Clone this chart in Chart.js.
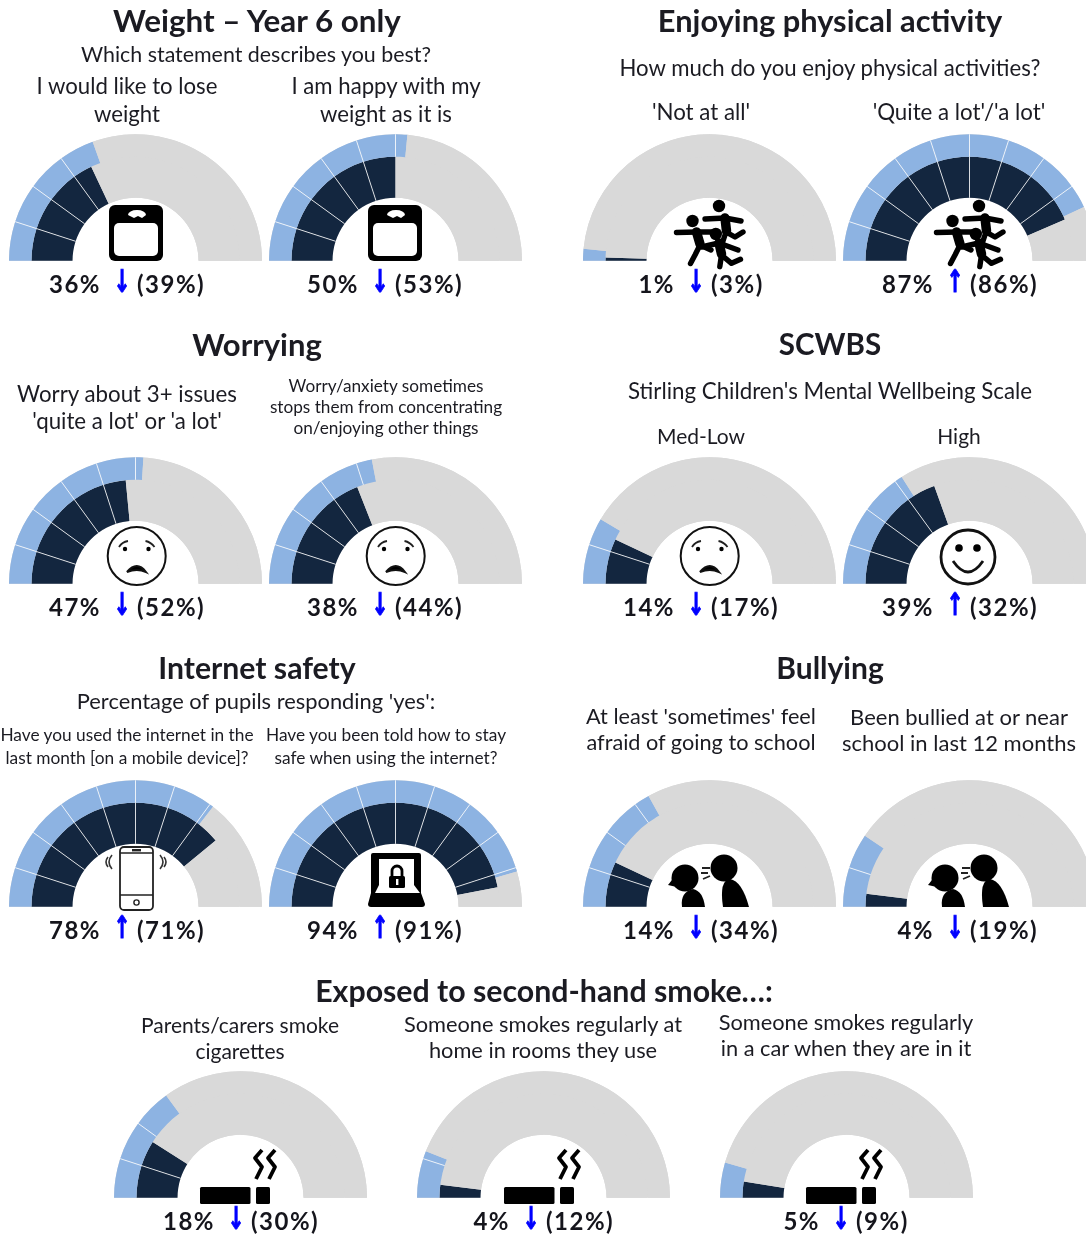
<!DOCTYPE html>
<html>
<head>
<meta charset="utf-8">
<title>Gauges</title>
<script src="https://cdn.jsdelivr.net/npm/chart.js@4"></script>
<style>
  html, body { margin: 0; background: #fff; }
  #page { position: relative; width: 1086px; height: 1234px; overflow: hidden; font-family: Lato, sans-serif; color: #1b1b22; filter: blur(0.55px); }
  #page canvas { position: absolute; }
  #page svg { position: absolute; width: 1px; height: 1px; overflow: visible; }
  .txt { position: absolute; white-space: nowrap; transform: translate(-50%, -50%); line-height: 1; }
  .pct { position: absolute; white-space: nowrap; line-height: 1; font-size: 24px; font-weight: 700; letter-spacing: 1.5px; transform: translateY(-50%); color: #15151c; }
  .arrow { position: absolute; line-height: 1; font: bold 24px "DejaVu Sans", sans-serif; color: #0000ff; -webkit-text-stroke: 0.7px #0000ff; transform: translate(-50%, -50%) scale(0.85, 1.3); }
</style>
</head>
<body>
<div id="page"></div>
<script>
  // values, current survey then previous survey (in brackets)
  const gaugeNames = ["Lose weight", "Happy with weight", "Not at all", "Quite a lot/a lot", "Worry 3+ issues", "Worry stops them", "Med-Low", "High", "Used internet", "Told how to stay safe", "Afraid of school", "Been bullied", "Parents smoke", "Smoke at home", "Smoke in car"];
  const currentValues = [36, 50, 1, 87, 47, 38, 14, 39, 78, 94, 14, 4, 18, 4, 5];
  const previousValues = [39, 53, 3, 86, 52, 44, 17, 32, 71, 91, 34, 19, 30, 12, 9];
  const gaugeIcons = ["scale", "scale", "runners", "runners", "sad", "sad", "sad", "smile", "phone", "lock", "talk", "talk", "smoke", "smoke", "smoke"];

  const headings = ["Weight – Year 6 only", "Enjoying physical activity", "Worrying", "SCWBS", "Internet safety", "Bullying", "Exposed to second-hand smoke…:"];
  const subheadings = ["Which statement describes you best?", "How much do you enjoy physical activities?", "Stirling Children's Mental Wellbeing Scale", "Percentage of pupils responding 'yes':"];
  const captions = [
    ["I would like to lose", "weight"],
    ["I am happy with my", "weight as it is"],
    ["'Not at all'"],
    ["'Quite a lot'/'a lot'"],
    ["Worry about 3+ issues", "'quite a lot' or 'a lot'"],
    ["Worry/anxiety sometimes", "stops them from concentrating", "on/enjoying other things"],
    ["Med-Low"],
    ["High"],
    ["Have you used the internet in the", "last month [on a mobile device]?"],
    ["Have you been told how to stay", "safe when using the internet?"],
    ["At least 'sometimes' feel", "afraid of going to school"],
    ["Been bullied at or near", "school in last 12 months"],
    ["Parents/carers smoke", "cigarettes"],
    ["Someone smokes regularly at", "home in rooms they use"],
    ["Someone smokes regularly", "in a car when they are in it"]
  ];

  // layout
  const gaugeX = [135.5, 395, 709, 969, 135.5, 395, 709, 969, 135.5, 395, 709, 969, 240, 543.5, 846];
  const gaugeY = [261, 261, 261, 261, 584, 584, 584, 584, 907, 907, 907, 907, 1198, 1198, 1198];
  const arrowX = [122, 380, 696, 955, 122, 380, 696, 955, 122, 380, 696, 955, 236, 531, 841];
  const headingSpots = [[257, 21], [830, 21], [257, 344], [830, 344], [257, 667], [830, 667], [544, 990]];
  const headingSize = [31.4, 30.8, 31, 29.5, 30.2, 30, 30.3];
  const subSpots = [[256, 55], [830, 68], [830, 391], [256, 701]];
  const subSize = [21.4, 22.2, 22.3, 21.9];
  const captionX = [127, 386, 701, 959, 127, 386, 701, 959, 127, 386, 701, 959, 240, 543, 846];
  const captionY = [86, 86, 112, 112, 394, 386, 435, 435, 735, 735, 717, 717, 1024, 1024, 1022];
  const captionGap = [28, 28, 0, 0, 27, 21, 0, 0, 23, 23, 26, 26, 26, 26, 26];
  const captionSize = [22.2, 22.2, 22.3, 22.3, 22.3, 17.2, 21, 21, 17.3, 17.3, 21.7, 22, 21, 21.8, 21.8];

  const RADIUS = 126.5, INNER = 63, SPLIT = 104;
  const NAVY = "#13263f", BLUE = "#8db3e2", GREY = "#d9d9d9";

  const page = document.getElementById("page");

  function addText(str, x, y, size, weight) {
    const el = document.createElement("div");
    el.className = "txt";
    el.textContent = str;
    el.style.left = x + "px";
    el.style.top = y + "px";
    el.style.fontSize = size + "px";
    if (weight) el.style.fontWeight = weight;
    page.appendChild(el);
  }

  // cut a value into 10-point tiles, the grey rest goes last
  function tiles(value) {
    const out = [];
    let left = value;
    while (left > 0) { out.push(Math.min(left, 10)); left -= 10; }
    out.push(100 - value);
    return out;
  }

  function tileColors(n, color) {
    const out = new Array(n).fill(color);
    out[n - 1] = GREY;
    return out;
  }

  const spokes = {
    id: "spokes",
    // one grey band under both rings, else the seam between them shows
    beforeDatasetsDraw(chart) {
      const first = chart.getDatasetMeta(0).data[0];
      const last = chart.getDatasetMeta(1).data[0];
      const ctx = chart.ctx;
      ctx.save();
      ctx.fillStyle = GREY;
      ctx.beginPath();
      ctx.arc(first.x, first.y, first.outerRadius, Math.PI, 2 * Math.PI);
      ctx.arc(first.x, first.y, last.innerRadius, 2 * Math.PI, Math.PI, true);
      ctx.closePath();
      ctx.fill();
      ctx.restore();
    },
    // white spokes between the coloured tiles, not over the grey
    afterDatasetsDraw(chart) {
      const ctx = chart.ctx;
      ctx.save();
      ctx.strokeStyle = "rgba(255,255,255,0.8)";
      ctx.lineWidth = 1;
      chart.getSortedVisibleDatasetMetas().forEach((meta) => {
        meta.data.slice(0, -2).forEach((arc) => {
          const p = arc.getProps(["x", "y", "endAngle", "innerRadius", "outerRadius"]);
          const c = Math.cos(p.endAngle), s = Math.sin(p.endAngle);
          ctx.beginPath();
          ctx.moveTo(p.x + c * p.innerRadius, p.y + s * p.innerRadius);
          ctx.lineTo(p.x + c * p.outerRadius, p.y + s * p.outerRadius);
          ctx.stroke();
        });
      });
      ctx.restore();
    }
  };

  function drawGauge(i) {
    const canvas = document.createElement("canvas");
    const w = Math.round(RADIUS * 2), h = Math.ceil(RADIUS);
    canvas.width = w;
    canvas.height = h;
    canvas.style.left = (gaugeX[i] - w / 2) + "px";
    canvas.style.top = (gaugeY[i] - h) + "px";
    canvas.setAttribute("aria-label", gaugeNames[i]);
    page.appendChild(canvas);
    const outer = tiles(previousValues[i]);
    const inner = tiles(currentValues[i]);
    new Chart(canvas, {
      type: "doughnut",
      data: {
        datasets: [
          { data: outer, backgroundColor: tileColors(outer.length, BLUE), borderWidth: 0, weight: RADIUS - SPLIT },
          { data: inner, backgroundColor: tileColors(inner.length, NAVY), borderWidth: 0, weight: SPLIT - INNER }
        ]
      },
      options: {
        responsive: false,
        animation: false,
        rotation: -90,
        circumference: 180,
        cutout: (INNER / RADIUS * 100) + "%",
        plugins: { legend: { display: false }, tooltip: { enabled: false } }
      },
      plugins: [spokes]
    });
  }

  // icons, drawn around the foot of the gauge (0,0), y going up is negative
  const runner = (limbs, torso, hx, hy) => `<circle cx="${hx}" cy="${hy}" r="6.2"/>
    <path d="${torso}" fill="none" stroke="#000" stroke-width="9.5" stroke-linecap="round"/>
    <path d="${limbs}" fill="none" stroke="#000" stroke-width="5.4" stroke-linecap="round" stroke-linejoin="round"/>`;
  const sadFace = `<circle cx="0.7" cy="-28" r="29" fill="#fff" stroke="#111" stroke-width="2"/>
    <circle cx="-11" cy="-35" r="2.2"/><circle cx="12.5" cy="-35" r="2.2"/>
    <path d="M-17 -37 Q-14 -42 -8 -43 M18.5 -37 Q15 -42 9.5 -43" stroke="#222" stroke-width="1.8" fill="none"/>
    <path d="M-9 -12 Q1 -24 10 -12 Q1 -16 -9 -12Z" stroke="#111" stroke-width="2"/>`;
  const iconArt = {
    scale: `<rect x="-27" y="-56" width="54" height="56" rx="6"/>
      <rect x="-22" y="-38" width="44" height="33" rx="5" fill="#fff"/>
      <path d="M-8 -46 A9 5 0 0 1 10 -46 L6 -43 L2 -45 L-2 -43Z" fill="#fff"/>`,
    runners: runner("M-4 -42 L16 -43 L32 -40 M17 -29 L26 -24 L34 -29 M17 -29 L12 -14", "M16 -43 L17.5 -30", 10, -55)
      + runner("M-32.5 -28.5 L-12 -29 L4 -29 M-9 -16 L-14 -6 L-18.5 2.5 M-9 -16 L2 -11", "M-12.5 -29 L-9 -17", -16.5, -40)
      + runner("M-7.5 -14 L10 -18 L29 -11 M12.5 -6 L10.8 5.7 M12.5 -6 L22.5 2.3 L31.5 -1.7", "M10 -18 L12.5 -7", 6.8, -27),
    sad: sadFace,
    smile: `<circle cx="-1" cy="-27" r="27" fill="#fff" stroke="#111" stroke-width="2.8"/>
      <circle cx="-10" cy="-36" r="3.8"/><circle cx="8" cy="-36" r="3.8"/>
      <path d="M-16 -23 Q-1 -1 14 -23" fill="none" stroke="#111" stroke-width="2.8"/>`,
    phone: `<rect x="-16" y="-60" width="33" height="63" rx="4" fill="#fff" stroke="#222" stroke-width="1.8"/>
      <path d="M-16 -54 H17 M-16 -12 H17" stroke="#222" stroke-width="1.4"/>
      <rect x="-4" y="-58" width="9" height="2.4" fill="#222"/>
      <circle cx="0.5" cy="-4.5" r="2.6" fill="none" stroke="#222" stroke-width="1.4"/>
      <path d="M-24 -52 Q-30 -45 -24 -38 M-28 -50 Q-32 -45 -28 -40 M24 -52 Q30 -45 24 -38 M28 -50 Q32 -45 28 -40" fill="none" stroke="#333" stroke-width="1.6"/>`,
    lock: `<path d="M-22 -54 H24 Q26 -54 26 -52 V-14 L30 -3 Q30 0 27 0 H-24 Q-27 0 -27 -3 L-24 -14 V-52 Q-24 -54 -22 -54Z"/>
      <path d="M-16 -48 H19 V-22 L25 -14 H-20 L-16 -22Z" fill="#fff"/>
      <path d="M-3 -30 V-36 A5 5 0 0 1 7 -36 V-30" fill="none" stroke="#000" stroke-width="2.8"/>
      <rect x="-6" y="-31" width="16" height="12" rx="1.5"/><rect x="1" y="-28" width="2.4" height="6" fill="#fff"/>`,
    talk: `<circle cx="-24" cy="-29" r="13.5"/><path d="M-37 -27 L-41 -22 L-28 -19Z"/>
      <path d="M-27 0 Q-29 -15 -16 -18 Q-6 -16 -4 0Z"/>
      <circle cx="15" cy="-39" r="13.5"/><path d="M14 0 Q10 -27 21 -28 Q33 -26 40 0Z"/>
      <path d="M-7 -39 H1 M-8 -34 H-1 M-6 -28 L1 -31" stroke="#222" stroke-width="1.8" fill="none"/>`,
    smoke: `<rect x="-40" y="-11" width="50.5" height="17" rx="1.5"/><rect x="16" y="-11" width="14" height="17" rx="1.5"/>
      <path d="M22 -48 L15 -40 L22 -31 L16 -19 M35 -48 L28 -40 L35 -31 L29 -19" fill="none" stroke="#000" stroke-width="3.8" stroke-linejoin="round"/>`
  };

  function drawIcon(i) {
    const svg = document.createElementNS("http://www.w3.org/2000/svg", "svg");
    svg.innerHTML = iconArt[gaugeIcons[i]];
    svg.style.left = gaugeX[i] + "px";
    svg.style.top = gaugeY[i] + "px";
    page.appendChild(svg);
  }

  function drawValues(i) {
    const y = gaugeY[i] + 23;
    const now = document.createElement("span");
    now.className = "pct";
    now.textContent = currentValues[i] + "%";
    now.style.right = (1086 - arrowX[i] + 21) + "px";
    now.style.top = y + "px";
    const arrow = document.createElement("span");
    arrow.className = "arrow";
    arrow.textContent = currentValues[i] > previousValues[i] ? "↑" : "↓";
    arrow.style.left = arrowX[i] + "px";
    arrow.style.top = (y - 2) + "px";
    const before = document.createElement("span");
    before.className = "pct";
    before.textContent = "(" + previousValues[i] + "%)";
    before.style.left = (arrowX[i] + 15) + "px";
    before.style.top = y + "px";
    page.append(now, arrow, before);
  }

  headings.forEach((t, i) => addText(t, headingSpots[i][0], headingSpots[i][1], headingSize[i], 700));
  subheadings.forEach((t, i) => addText(t, subSpots[i][0], subSpots[i][1], subSize[i]));
  captions.forEach((lines, i) => {
    lines.forEach((line, k) => addText(line, captionX[i], captionY[i] + k * captionGap[i], captionSize[i]));
  });

  currentValues.forEach((v, i) => {
    drawGauge(i);
    drawIcon(i);
    drawValues(i);
  });
</script>
</body>
</html>
